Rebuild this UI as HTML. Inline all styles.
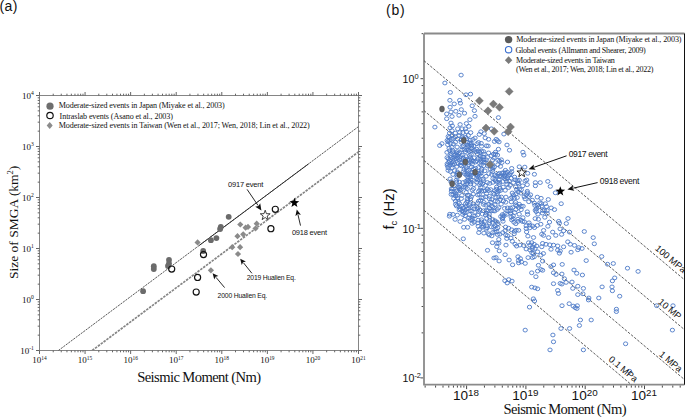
<!DOCTYPE html>
<html><head><meta charset="utf-8"><style>
html,body{margin:0;padding:0;background:#fff;width:685px;height:417px;overflow:hidden}
svg{display:block}
</style></head><body>
<svg width="685" height="417" viewBox="0 0 685 417">
<defs><clipPath id="clipL"><rect x="39.5" y="95.5" width="319.0" height="255.0"/></clipPath>
<clipPath id="clipR"><rect x="424" y="33.5" width="260.5" height="351.2"/></clipPath></defs>
<path d="M39.5 95.5H358.5V350.5H39.5Z" fill="none" stroke="#858585" stroke-width="1"/>
<path d="M39.5 350.5v3.5M39.5 95.5v-3.5M53.22 350.5v1.8M53.22 95.5v-1.8M61.24 350.5v1.8M61.24 95.5v-1.8M66.94 350.5v1.8M66.94 95.5v-1.8M71.35 350.5v1.8M71.35 95.5v-1.8M74.96 350.5v1.8M74.96 95.5v-1.8M78.01 350.5v1.8M78.01 95.5v-1.8M80.66 350.5v1.8M80.66 95.5v-1.8M82.99 350.5v1.8M82.99 95.5v-1.8M85.07 350.5v3.5M85.07 95.5v-3.5M98.79 350.5v1.8M98.79 95.5v-1.8M106.81 350.5v1.8M106.81 95.5v-1.8M112.51 350.5v1.8M112.51 95.5v-1.8M116.92 350.5v1.8M116.92 95.5v-1.8M120.53 350.5v1.8M120.53 95.5v-1.8M123.58 350.5v1.8M123.58 95.5v-1.8M126.23 350.5v1.8M126.23 95.5v-1.8M128.56 350.5v1.8M128.56 95.5v-1.8M130.64 350.5v3.5M130.64 95.5v-3.5M144.36 350.5v1.8M144.36 95.5v-1.8M152.39 350.5v1.8M152.39 95.5v-1.8M158.08 350.5v1.8M158.08 95.5v-1.8M162.5 350.5v1.8M162.5 95.5v-1.8M166.1 350.5v1.8M166.1 95.5v-1.8M169.16 350.5v1.8M169.16 95.5v-1.8M171.8 350.5v1.8M171.8 95.5v-1.8M174.13 350.5v1.8M174.13 95.5v-1.8M176.21 350.5v3.5M176.21 95.5v-3.5M189.93 350.5v1.8M189.93 95.5v-1.8M197.96 350.5v1.8M197.96 95.5v-1.8M203.65 350.5v1.8M203.65 95.5v-1.8M208.07 350.5v1.8M208.07 95.5v-1.8M211.68 350.5v1.8M211.68 95.5v-1.8M214.73 350.5v1.8M214.73 95.5v-1.8M217.37 350.5v1.8M217.37 95.5v-1.8M219.7 350.5v1.8M219.7 95.5v-1.8M221.79 350.5v3.5M221.79 95.5v-3.5M235.5 350.5v1.8M235.5 95.5v-1.8M243.53 350.5v1.8M243.53 95.5v-1.8M249.22 350.5v1.8M249.22 95.5v-1.8M253.64 350.5v1.8M253.64 95.5v-1.8M257.25 350.5v1.8M257.25 95.5v-1.8M260.3 350.5v1.8M260.3 95.5v-1.8M262.94 350.5v1.8M262.94 95.5v-1.8M265.27 350.5v1.8M265.27 95.5v-1.8M267.36 350.5v3.5M267.36 95.5v-3.5M281.08 350.5v1.8M281.08 95.5v-1.8M289.1 350.5v1.8M289.1 95.5v-1.8M294.79 350.5v1.8M294.79 95.5v-1.8M299.21 350.5v1.8M299.21 95.5v-1.8M302.82 350.5v1.8M302.82 95.5v-1.8M305.87 350.5v1.8M305.87 95.5v-1.8M308.51 350.5v1.8M308.51 95.5v-1.8M310.84 350.5v1.8M310.84 95.5v-1.8M312.93 350.5v3.5M312.93 95.5v-3.5M326.65 350.5v1.8M326.65 95.5v-1.8M334.67 350.5v1.8M334.67 95.5v-1.8M340.37 350.5v1.8M340.37 95.5v-1.8M344.78 350.5v1.8M344.78 95.5v-1.8M348.39 350.5v1.8M348.39 95.5v-1.8M351.44 350.5v1.8M351.44 95.5v-1.8M354.08 350.5v1.8M354.08 95.5v-1.8M356.41 350.5v1.8M356.41 95.5v-1.8M358.5 350.5v3.5M358.5 95.5v-3.5M39.5 350.5h-3.5M358.5 350.5h3.5M39.5 335.15h-1.8M358.5 335.15h1.8M39.5 326.17h-1.8M358.5 326.17h1.8M39.5 319.79h-1.8M358.5 319.79h1.8M39.5 314.85h-1.8M358.5 314.85h1.8M39.5 310.81h-1.8M358.5 310.81h1.8M39.5 307.4h-1.8M358.5 307.4h1.8M39.5 304.44h-1.8M358.5 304.44h1.8M39.5 301.83h-1.8M358.5 301.83h1.8M39.5 299.5h-3.5M358.5 299.5h3.5M39.5 284.15h-1.8M358.5 284.15h1.8M39.5 275.17h-1.8M358.5 275.17h1.8M39.5 268.79h-1.8M358.5 268.79h1.8M39.5 263.85h-1.8M358.5 263.85h1.8M39.5 259.81h-1.8M358.5 259.81h1.8M39.5 256.4h-1.8M358.5 256.4h1.8M39.5 253.44h-1.8M358.5 253.44h1.8M39.5 250.83h-1.8M358.5 250.83h1.8M39.5 248.5h-3.5M358.5 248.5h3.5M39.5 233.15h-1.8M358.5 233.15h1.8M39.5 224.17h-1.8M358.5 224.17h1.8M39.5 217.79h-1.8M358.5 217.79h1.8M39.5 212.85h-1.8M358.5 212.85h1.8M39.5 208.81h-1.8M358.5 208.81h1.8M39.5 205.4h-1.8M358.5 205.4h1.8M39.5 202.44h-1.8M358.5 202.44h1.8M39.5 199.83h-1.8M358.5 199.83h1.8M39.5 197.5h-3.5M358.5 197.5h3.5M39.5 182.15h-1.8M358.5 182.15h1.8M39.5 173.17h-1.8M358.5 173.17h1.8M39.5 166.79h-1.8M358.5 166.79h1.8M39.5 161.85h-1.8M358.5 161.85h1.8M39.5 157.81h-1.8M358.5 157.81h1.8M39.5 154.4h-1.8M358.5 154.4h1.8M39.5 151.44h-1.8M358.5 151.44h1.8M39.5 148.83h-1.8M358.5 148.83h1.8M39.5 146.5h-3.5M358.5 146.5h3.5M39.5 131.15h-1.8M358.5 131.15h1.8M39.5 122.17h-1.8M358.5 122.17h1.8M39.5 115.79h-1.8M358.5 115.79h1.8M39.5 110.85h-1.8M358.5 110.85h1.8M39.5 106.81h-1.8M358.5 106.81h1.8M39.5 103.4h-1.8M358.5 103.4h1.8M39.5 100.44h-1.8M358.5 100.44h1.8M39.5 97.83h-1.8M358.5 97.83h1.8M39.5 95.5h-3.5M358.5 95.5h3.5" stroke="#555" stroke-width="0.9" fill="none"/>
<text x="33.8" y="353.7" font-family="'Liberation Serif', serif" font-size="9" text-anchor="end" fill="#111">10<tspan font-size="5.6" dy="-3.3">-1</tspan></text>
<text x="33.8" y="302.7" font-family="'Liberation Serif', serif" font-size="9" text-anchor="end" fill="#111">10<tspan font-size="5.6" dy="-3.3">0</tspan></text>
<text x="33.8" y="251.7" font-family="'Liberation Serif', serif" font-size="9" text-anchor="end" fill="#111">10<tspan font-size="5.6" dy="-3.3">1</tspan></text>
<text x="33.8" y="200.7" font-family="'Liberation Serif', serif" font-size="9" text-anchor="end" fill="#111">10<tspan font-size="5.6" dy="-3.3">2</tspan></text>
<text x="33.8" y="149.7" font-family="'Liberation Serif', serif" font-size="9" text-anchor="end" fill="#111">10<tspan font-size="5.6" dy="-3.3">3</tspan></text>
<text x="33.8" y="98.7" font-family="'Liberation Serif', serif" font-size="9" text-anchor="end" fill="#111">10<tspan font-size="5.6" dy="-3.3">4</tspan></text>
<text x="32.3" y="363" font-family="'Liberation Serif', serif" font-size="9" fill="#111">10<tspan font-size="5.4" dy="-3.0">14</tspan></text>
<text x="77.87" y="363" font-family="'Liberation Serif', serif" font-size="9" fill="#111">10<tspan font-size="5.4" dy="-3.0">15</tspan></text>
<text x="123.44" y="363" font-family="'Liberation Serif', serif" font-size="9" fill="#111">10<tspan font-size="5.4" dy="-3.0">16</tspan></text>
<text x="169.01" y="363" font-family="'Liberation Serif', serif" font-size="9" fill="#111">10<tspan font-size="5.4" dy="-3.0">17</tspan></text>
<text x="214.59" y="363" font-family="'Liberation Serif', serif" font-size="9" fill="#111">10<tspan font-size="5.4" dy="-3.0">18</tspan></text>
<text x="260.16" y="363" font-family="'Liberation Serif', serif" font-size="9" fill="#111">10<tspan font-size="5.4" dy="-3.0">19</tspan></text>
<text x="305.73" y="363" font-family="'Liberation Serif', serif" font-size="9" fill="#111">10<tspan font-size="5.4" dy="-3.0">20</tspan></text>
<text x="351.3" y="363" font-family="'Liberation Serif', serif" font-size="9" fill="#111">10<tspan font-size="5.4" dy="-3.0">21</tspan></text>
<text x="137.2" y="381.5" font-family="'Liberation Serif', serif" font-size="14.6" textLength="124" fill="#111">Seismic Moment (Nm)</text>
<text transform="translate(17.5 279) rotate(-90)" font-family="'Liberation Serif', serif" font-size="13.5" fill="#111">Size of SMGA (km<tspan font-size="8.5" dy="-5">2</tspan><tspan dy="5">)</tspan></text>
<text x="-0.4" y="10.8" font-family="'Liberation Sans', sans-serif" font-size="14" letter-spacing="0.3" fill="#111">(a)</text>
<circle cx="50" cy="106.2" r="3.6" fill="#6e6e6e"/>
<circle cx="50" cy="115.5" r="3.2" fill="none" stroke="#111" stroke-width="1.2"/>
<path d="M49.7 122l3 3.5-3 3.5-3-3.5z" fill="#8c8c8c"/>
<text x="58.7" y="108.3" font-family="'Liberation Serif', serif" font-size="8.1" textLength="166" fill="#111">Moderate-sized events in Japan (Miyake et al., 2003)</text>
<text x="59.6" y="118.5" font-family="'Liberation Serif', serif" font-size="8.1" textLength="113.3" fill="#111">Intraslab events (Asano et al., 2003)</text>
<text x="58.7" y="127.8" font-family="'Liberation Serif', serif" font-size="8.1" textLength="251" fill="#111">Moderate-sized events in Taiwan (Wen et al., 2017; Wen, 2018; Lin et al., 2022)</text>
<g clip-path="url(#clipL)">
<line x1="58.4" y1="350.5" x2="358.5" y2="126.6" stroke="#222" stroke-width="0.75" stroke-dasharray="2.2 0.9"/>
<line x1="199" y1="245.6" x2="308.5" y2="163.91" stroke="#222" stroke-width="0.9"/>
<line x1="92.2" y1="350.5" x2="358.5" y2="151.82" stroke="#858585" stroke-width="1.7" stroke-dasharray="2.5 1.05"/>
</g>
<path d="M424 33.5H684.5M424 33.5V384.7H684.5" fill="none" stroke="#8a8a8a" stroke-width="1.8"/>
<path d="M684.5 33.5V384.7" stroke="#111" stroke-width="1"/>
<path d="M425.15 385.59999999999997v2M435.59 385.59999999999997v2M443 385.59999999999997v2M448.75 385.59999999999997v2M453.44 385.59999999999997v2M457.41 385.59999999999997v2M460.85 385.59999999999997v2M463.89 385.59999999999997v2M466.6 385.59999999999997v3.5M484.45 385.59999999999997v2M494.89 385.59999999999997v2M502.3 385.59999999999997v2M508.05 385.59999999999997v2M512.74 385.59999999999997v2M516.71 385.59999999999997v2M520.15 385.59999999999997v2M523.19 385.59999999999997v2M525.9 385.59999999999997v3.5M543.75 385.59999999999997v2M554.19 385.59999999999997v2M561.6 385.59999999999997v2M567.35 385.59999999999997v2M572.04 385.59999999999997v2M576.01 385.59999999999997v2M579.45 385.59999999999997v2M582.49 385.59999999999997v2M585.2 385.59999999999997v3.5M603.05 385.59999999999997v2M613.49 385.59999999999997v2M620.9 385.59999999999997v2M626.65 385.59999999999997v2M631.34 385.59999999999997v2M635.31 385.59999999999997v2M638.75 385.59999999999997v2M641.79 385.59999999999997v2M644.5 385.59999999999997v3.5M662.35 385.59999999999997v2M672.79 385.59999999999997v2M680.2 385.59999999999997v2M423.1 377.9h-2.6M423.1 332.87h-1.5M423.1 306.52h-1.5M423.1 287.83h-1.5M423.1 273.33h-1.5M423.1 261.49h-1.5M423.1 251.47h-1.5M423.1 242.8h-1.5M423.1 235.15h-1.5M423.1 228.3h-2.6M423.1 183.27h-1.5M423.1 156.92h-1.5M423.1 138.23h-1.5M423.1 123.73h-1.5M423.1 111.89h-1.5M423.1 101.87h-1.5M423.1 93.2h-1.5M423.1 85.55h-1.5M423.1 78.7h-2.6M423.1 33.67h-1.5" stroke="#333" stroke-width="0.9" fill="none"/>
<text x="402.6" y="83" font-family="'Liberation Sans', sans-serif" font-size="10.6" fill="#111">10<tspan font-size="7.4" dy="-3.8">0</tspan></text>
<text x="402.6" y="232.6" font-family="'Liberation Sans', sans-serif" font-size="10.6" fill="#111">10<tspan font-size="7.4" dy="-3.8">-1</tspan></text>
<text x="402.6" y="382.2" font-family="'Liberation Sans', sans-serif" font-size="10.6" fill="#111">10<tspan font-size="7.4" dy="-3.8">-2</tspan></text>
<text transform="translate(453 399.9) scale(1.07 1)" font-family="'Liberation Sans', sans-serif" font-size="12.7" fill="#111">10<tspan font-size="9.2" dy="-4.1">18</tspan></text>
<text transform="translate(512.3 399.9) scale(1.07 1)" font-family="'Liberation Sans', sans-serif" font-size="12.7" fill="#111">10<tspan font-size="9.2" dy="-4.1">19</tspan></text>
<text transform="translate(571.6 399.9) scale(1.07 1)" font-family="'Liberation Sans', sans-serif" font-size="12.7" fill="#111">10<tspan font-size="9.2" dy="-4.1">20</tspan></text>
<text transform="translate(630.9 399.9) scale(1.07 1)" font-family="'Liberation Sans', sans-serif" font-size="12.7" fill="#111">10<tspan font-size="9.2" dy="-4.1">21</tspan></text>
<text x="503.5" y="414.4" font-family="'Liberation Serif', serif" font-size="14.6" textLength="123" fill="#111">Seismic Moment (Nm)</text>
<text transform="translate(394.1 229.6) rotate(-90)" font-family="'Liberation Sans', sans-serif" font-size="15" fill="#111">f<tspan font-size="9.5" dy="3">c</tspan><tspan dy="-3"> (Hz)</tspan></text>
<text x="386" y="14.7" font-family="'Liberation Sans', sans-serif" font-size="14" letter-spacing="0.75" fill="#111">(b)</text>
<g stroke="#4a4a4a" stroke-width="0.9" stroke-dasharray="2.6 1.5"><line x1="424" y1="60.7" x2="684.5" y2="279.78"/><line x1="424" y1="110.6" x2="684.5" y2="329.68"/><line x1="424" y1="160.5" x2="684.5" y2="379.58"/><line x1="424" y1="210.3" x2="631.37" y2="384.7"/></g>
<circle cx="508.6" cy="39.6" r="3.7" fill="#5a5a5a"/>
<circle cx="508.6" cy="49.7" r="3.2" fill="none" stroke="#3a6fd0" stroke-width="1.1"/>
<path d="M508.6 56.3l3.7 3.9-3.7 3.9-3.7-3.9z" fill="#7a7a7a"/>
<text x="516.2" y="42.3" font-family="'Liberation Serif', serif" font-size="8.1" textLength="165.3" fill="#111">Moderate-sized events in Japan (Miyake et al., 2003)</text>
<text x="515.4" y="53.1" font-family="'Liberation Serif', serif" font-size="8.1" textLength="130.4" fill="#111">Global events (Allmann and Shearer, 2009)</text>
<text x="516" y="63.1" font-family="'Liberation Serif', serif" font-size="8.1" textLength="98.8" fill="#111">Moderate-sized events in Taiwan</text>
<text x="516" y="72.3" font-family="'Liberation Serif', serif" font-size="8.1" textLength="137.4" fill="#111">(Wen et al., 2017; Wen, 2018; Lin et al., 2022)</text>
<g>
<circle cx="143.1" cy="291.2" r="2.9" fill="#6b6b6b"/>
<circle cx="153.8" cy="266.2" r="2.9" fill="#6b6b6b"/>
<circle cx="153.8" cy="269" r="2.9" fill="#6b6b6b"/>
<circle cx="169" cy="260" r="2.9" fill="#6b6b6b"/>
<circle cx="169" cy="263.6" r="2.9" fill="#6b6b6b"/>
<circle cx="168" cy="266" r="2.9" fill="#6b6b6b"/>
<circle cx="203.2" cy="251" r="2.9" fill="#6b6b6b"/>
<circle cx="210.9" cy="240.2" r="2.9" fill="#6b6b6b"/>
<circle cx="216.4" cy="238.1" r="2.9" fill="#6b6b6b"/>
<circle cx="220.8" cy="226.9" r="2.9" fill="#6b6b6b"/>
<circle cx="220.1" cy="229" r="2.9" fill="#6b6b6b"/>
<circle cx="228.7" cy="216.8" r="2.9" fill="#6b6b6b"/>
<path d="M197.6 239.3l3.1 3.1-3.1 3.1-3.1-3.1z" fill="#8a8a8a"/>
<path d="M210.9 267.2l3.1 3.1-3.1 3.1-3.1-3.1z" fill="#8a8a8a"/>
<path d="M232.2 244.1l3.1 3.1-3.1 3.1-3.1-3.1z" fill="#8a8a8a"/>
<path d="M240.1 244.1l3.1 3.1-3.1 3.1-3.1-3.1z" fill="#8a8a8a"/>
<path d="M238 250.9l3.1 3.1-3.1 3.1-3.1-3.1z" fill="#8a8a8a"/>
<path d="M240.3 221.4l3.1 3.1-3.1 3.1-3.1-3.1z" fill="#8a8a8a"/>
<path d="M245.6 224.6l3.1 3.1-3.1 3.1-3.1-3.1z" fill="#8a8a8a"/>
<path d="M248 223.8l3.1 3.1-3.1 3.1-3.1-3.1z" fill="#8a8a8a"/>
<path d="M256.7 220.6l3.1 3.1-3.1 3.1-3.1-3.1z" fill="#8a8a8a"/>
<path d="M255.5 225.4l3.1 3.1-3.1 3.1-3.1-3.1z" fill="#8a8a8a"/>
<path d="M237.5 233.1l3.1 3.1-3.1 3.1-3.1-3.1z" fill="#8a8a8a"/>
<path d="M243.2 231.20000000000002l3.1 3.1-3.1 3.1-3.1-3.1z" fill="#8a8a8a"/>
<circle cx="171.7" cy="269" r="3.05" fill="none" stroke="#111" stroke-width="1.15"/>
<circle cx="203.5" cy="254.6" r="3.05" fill="none" stroke="#111" stroke-width="1.15"/>
<circle cx="197.6" cy="277.4" r="3.05" fill="none" stroke="#111" stroke-width="1.15"/>
<circle cx="196.2" cy="292" r="3.05" fill="none" stroke="#111" stroke-width="1.15"/>
<circle cx="275.3" cy="209.3" r="3.05" fill="none" stroke="#111" stroke-width="1.15"/>
<circle cx="270.9" cy="228.7" r="3.05" fill="none" stroke="#111" stroke-width="1.15"/>
<path d="M265.20 210.20L266.43 213.70L270.15 213.79L267.20 216.05L268.26 219.61L265.20 217.50L262.14 219.61L263.20 216.05L260.25 213.79L263.97 213.70Z" fill="#fff" stroke="#111" stroke-width="0.8"/>
<path d="M294.40 197.70L295.63 201.10L299.25 201.22L296.40 203.45L297.40 206.93L294.40 204.90L291.40 206.93L292.40 203.45L289.55 201.22L293.17 201.10Z" fill="#000"/>
</g>
<line x1="247.1" y1="189.4" x2="258.02" y2="205.44" stroke="#111" stroke-width="0.9"/>
<path d="M261.4 210.4L255.26 206.72L258.42 206.02L260.22 203.34Z" fill="#111"/>
<line x1="300.5" y1="225.6" x2="298.04" y2="214.96" stroke="#111" stroke-width="0.9"/>
<path d="M296.8 209.6L300.88 214.81L297.88 214.28L295.42 216.08Z" fill="#111"/>
<line x1="224.6" y1="287.6" x2="216.01" y2="277.36" stroke="#111" stroke-width="0.9"/>
<path d="M212.6 273.3L218.4 276.01L215.56 276.82L214.26 279.48Z" fill="#111"/>
<line x1="251.9" y1="273.3" x2="243.51" y2="262.84" stroke="#111" stroke-width="0.9"/>
<path d="M240.2 258.7L245.93 261.54L243.08 262.29L241.72 264.91Z" fill="#111"/>
<text x="228" y="186.8" font-family="'Liberation Sans', sans-serif" font-size="7.5" textLength="35.3" fill="#111">0917 event</text>
<text x="291.9" y="234.5" font-family="'Liberation Sans', sans-serif" font-size="7.5" textLength="35.1" fill="#111">0918 event</text>
<text x="217.6" y="298" font-family="'Liberation Sans', sans-serif" font-size="6.8" textLength="49.6" fill="#111">2000 Hualien Eq.</text>
<text x="246.8" y="280.4" font-family="'Liberation Sans', sans-serif" font-size="6.8" textLength="49" fill="#111">2019 Hualien Eq.</text>
<g fill="none" stroke="#4c79c7" stroke-width="0.9" clip-path="url(#clipR)">
<ellipse cx="461.1" cy="75.1" rx="2.15" ry="1.9"/><ellipse cx="444.9" cy="83.0" rx="2.15" ry="1.9"/><ellipse cx="450.3" cy="92.4" rx="2.15" ry="1.9"/><ellipse cx="466.0" cy="94.8" rx="2.15" ry="1.9"/><ellipse cx="470.5" cy="94.1" rx="2.15" ry="1.9"/><ellipse cx="449.9" cy="100.3" rx="2.15" ry="1.9"/><ellipse cx="459.7" cy="100.3" rx="2.15" ry="1.9"/><ellipse cx="454.2" cy="103.9" rx="2.15" ry="1.9"/><ellipse cx="460.4" cy="103.2" rx="2.15" ry="1.9"/><ellipse cx="472.2" cy="105.8" rx="2.15" ry="1.9"/><ellipse cx="474.4" cy="110.6" rx="2.15" ry="1.9"/><ellipse cx="498.4" cy="117.6" rx="2.15" ry="1.9"/><ellipse cx="450.1" cy="107.2" rx="2.15" ry="1.9"/><ellipse cx="461.3" cy="109.6" rx="2.15" ry="1.9"/><ellipse cx="455.8" cy="111.3" rx="2.15" ry="1.9"/><ellipse cx="451.0" cy="112.0" rx="2.15" ry="1.9"/><ellipse cx="464.5" cy="113.2" rx="2.15" ry="1.9"/><ellipse cx="446.7" cy="113.9" rx="2.15" ry="1.9"/><ellipse cx="452.0" cy="116.5" rx="2.15" ry="1.9"/><ellipse cx="459.0" cy="115.3" rx="2.15" ry="1.9"/><ellipse cx="446.7" cy="118.7" rx="2.15" ry="1.9"/><ellipse cx="475.0" cy="116.3" rx="2.15" ry="1.9"/><ellipse cx="469.9" cy="119.7" rx="2.15" ry="1.9"/><ellipse cx="451.0" cy="123.0" rx="2.15" ry="1.9"/><ellipse cx="460.1" cy="124.5" rx="2.15" ry="1.9"/><ellipse cx="466.4" cy="123.5" rx="2.15" ry="1.9"/><ellipse cx="468.8" cy="126.4" rx="2.15" ry="1.9"/><ellipse cx="450.1" cy="127.8" rx="2.15" ry="1.9"/><ellipse cx="452.3" cy="125.9" rx="2.15" ry="1.9"/><ellipse cx="457.7" cy="128.8" rx="2.15" ry="1.9"/><ellipse cx="462.1" cy="128.8" rx="2.15" ry="1.9"/><ellipse cx="465.4" cy="128.8" rx="2.15" ry="1.9"/><ellipse cx="452.0" cy="130.7" rx="2.15" ry="1.9"/><ellipse cx="449.6" cy="133.1" rx="2.15" ry="1.9"/><ellipse cx="455.3" cy="133.1" rx="2.15" ry="1.9"/><ellipse cx="459.7" cy="132.6" rx="2.15" ry="1.9"/><ellipse cx="463.0" cy="132.6" rx="2.15" ry="1.9"/><ellipse cx="466.4" cy="131.7" rx="2.15" ry="1.9"/><ellipse cx="470.7" cy="132.6" rx="2.15" ry="1.9"/><ellipse cx="448.2" cy="136.5" rx="2.15" ry="1.9"/><ellipse cx="452.0" cy="135.5" rx="2.15" ry="1.9"/><ellipse cx="455.3" cy="136.9" rx="2.15" ry="1.9"/><ellipse cx="459.2" cy="135.5" rx="2.15" ry="1.9"/><ellipse cx="462.1" cy="136.9" rx="2.15" ry="1.9"/><ellipse cx="468.3" cy="135.5" rx="2.15" ry="1.9"/><ellipse cx="479.3" cy="134.5" rx="2.15" ry="1.9"/><ellipse cx="503.9" cy="134.1" rx="2.15" ry="1.9"/><ellipse cx="480.9" cy="131.7" rx="2.15" ry="1.9"/><ellipse cx="484.2" cy="133.6" rx="2.15" ry="1.9"/><ellipse cx="491.4" cy="128.8" rx="2.15" ry="1.9"/><ellipse cx="485.2" cy="137.9" rx="2.15" ry="1.9"/><ellipse cx="488.6" cy="139.3" rx="2.15" ry="1.9"/><ellipse cx="496.2" cy="139.3" rx="2.15" ry="1.9"/><ellipse cx="522.9" cy="152.2" rx="2.15" ry="1.9"/><ellipse cx="523.8" cy="155.1" rx="2.15" ry="1.9"/><ellipse cx="534.4" cy="174.3" rx="2.15" ry="1.9"/><ellipse cx="527.7" cy="173.3" rx="2.15" ry="1.9"/><ellipse cx="535.4" cy="182.6" rx="2.15" ry="1.9"/><ellipse cx="540.2" cy="182.6" rx="2.15" ry="1.9"/><ellipse cx="547.8" cy="181.4" rx="2.15" ry="1.9"/><ellipse cx="550.3" cy="186.4" rx="2.15" ry="1.9"/><ellipse cx="535.4" cy="185.8" rx="2.15" ry="1.9"/><ellipse cx="526.7" cy="180.0" rx="2.15" ry="1.9"/><ellipse cx="507.5" cy="162.0" rx="2.15" ry="1.9"/><ellipse cx="519.3" cy="166.8" rx="2.15" ry="1.9"/><ellipse cx="524.8" cy="167.1" rx="2.15" ry="1.9"/><ellipse cx="511.7" cy="168.4" rx="2.15" ry="1.9"/><ellipse cx="511.7" cy="171.8" rx="2.15" ry="1.9"/><ellipse cx="525.1" cy="181.0" rx="2.15" ry="1.9"/><ellipse cx="519.3" cy="180.2" rx="2.15" ry="1.9"/><ellipse cx="555.4" cy="192.8" rx="2.15" ry="1.9"/><ellipse cx="541.1" cy="198.3" rx="2.15" ry="1.9"/><ellipse cx="548.3" cy="199.5" rx="2.15" ry="1.9"/><ellipse cx="545.3" cy="203.7" rx="2.15" ry="1.9"/><ellipse cx="561.2" cy="203.7" rx="2.15" ry="1.9"/><ellipse cx="551.2" cy="207.9" rx="2.15" ry="1.9"/><ellipse cx="554.5" cy="209.6" rx="2.15" ry="1.9"/><ellipse cx="568.0" cy="218.5" rx="2.15" ry="1.9"/><ellipse cx="558.7" cy="221.3" rx="2.15" ry="1.9"/><ellipse cx="566.3" cy="223.5" rx="2.15" ry="1.9"/><ellipse cx="549.5" cy="222.1" rx="2.15" ry="1.9"/><ellipse cx="497.4" cy="140.6" rx="2.15" ry="1.9"/><ellipse cx="498.4" cy="149.2" rx="2.15" ry="1.9"/><ellipse cx="507.0" cy="145.0" rx="2.15" ry="1.9"/><ellipse cx="509.5" cy="150.2" rx="2.15" ry="1.9"/><ellipse cx="494.5" cy="141.5" rx="2.15" ry="1.9"/><ellipse cx="501.3" cy="159.8" rx="2.15" ry="1.9"/><ellipse cx="527.2" cy="184.7" rx="2.15" ry="1.9"/><ellipse cx="499.0" cy="141.9" rx="2.15" ry="1.9"/><ellipse cx="546.5" cy="206.6" rx="2.15" ry="1.9"/><ellipse cx="559.4" cy="223.2" rx="2.15" ry="1.9"/><ellipse cx="547.9" cy="226.3" rx="2.15" ry="1.9"/><ellipse cx="560.1" cy="228.9" rx="2.15" ry="1.9"/><ellipse cx="552.7" cy="232.1" rx="2.15" ry="1.9"/><ellipse cx="569.5" cy="232.1" rx="2.15" ry="1.9"/><ellipse cx="584.3" cy="231.5" rx="2.15" ry="1.9"/><ellipse cx="561.6" cy="234.4" rx="2.15" ry="1.9"/><ellipse cx="555.8" cy="235.4" rx="2.15" ry="1.9"/><ellipse cx="543.6" cy="235.4" rx="2.15" ry="1.9"/><ellipse cx="548.6" cy="237.6" rx="2.15" ry="1.9"/><ellipse cx="593.2" cy="237.6" rx="2.15" ry="1.9"/><ellipse cx="533.5" cy="237.5" rx="2.15" ry="1.9"/><ellipse cx="541.8" cy="234.2" rx="2.15" ry="1.9"/><ellipse cx="563.6" cy="230.8" rx="2.15" ry="1.9"/><ellipse cx="594.3" cy="243.8" rx="2.15" ry="1.9"/><ellipse cx="531.7" cy="242.6" rx="2.15" ry="1.9"/><ellipse cx="534.2" cy="244.3" rx="2.15" ry="1.9"/><ellipse cx="536.7" cy="246.0" rx="2.15" ry="1.9"/><ellipse cx="532.5" cy="246.8" rx="2.15" ry="1.9"/><ellipse cx="535.0" cy="248.5" rx="2.15" ry="1.9"/><ellipse cx="530.0" cy="250.0" rx="2.15" ry="1.9"/><ellipse cx="537.6" cy="251.8" rx="2.15" ry="1.9"/><ellipse cx="533.4" cy="253.5" rx="2.15" ry="1.9"/><ellipse cx="534.2" cy="256.8" rx="2.15" ry="1.9"/><ellipse cx="542.6" cy="243.4" rx="2.15" ry="1.9"/><ellipse cx="546.0" cy="244.3" rx="2.15" ry="1.9"/><ellipse cx="549.8" cy="244.8" rx="2.15" ry="1.9"/><ellipse cx="553.5" cy="245.1" rx="2.15" ry="1.9"/><ellipse cx="557.7" cy="245.9" rx="2.15" ry="1.9"/><ellipse cx="563.6" cy="246.8" rx="2.15" ry="1.9"/><ellipse cx="567.8" cy="241.8" rx="2.15" ry="1.9"/><ellipse cx="570.3" cy="244.3" rx="2.15" ry="1.9"/><ellipse cx="574.5" cy="245.4" rx="2.15" ry="1.9"/><ellipse cx="578.7" cy="247.6" rx="2.15" ry="1.9"/><ellipse cx="582.0" cy="248.5" rx="2.15" ry="1.9"/><ellipse cx="577.8" cy="249.8" rx="2.15" ry="1.9"/><ellipse cx="541.8" cy="246.8" rx="2.15" ry="1.9"/><ellipse cx="551.0" cy="249.3" rx="2.15" ry="1.9"/><ellipse cx="557.7" cy="250.1" rx="2.15" ry="1.9"/><ellipse cx="560.2" cy="251.0" rx="2.15" ry="1.9"/><ellipse cx="559.4" cy="253.2" rx="2.15" ry="1.9"/><ellipse cx="571.1" cy="252.2" rx="2.15" ry="1.9"/><ellipse cx="543.4" cy="253.5" rx="2.15" ry="1.9"/><ellipse cx="540.9" cy="255.2" rx="2.15" ry="1.9"/><ellipse cx="586.2" cy="260.6" rx="2.15" ry="1.9"/><ellipse cx="542.6" cy="261.1" rx="2.15" ry="1.9"/><ellipse cx="538.4" cy="265.3" rx="2.15" ry="1.9"/><ellipse cx="553.5" cy="264.9" rx="2.15" ry="1.9"/><ellipse cx="551.0" cy="266.6" rx="2.15" ry="1.9"/><ellipse cx="562.2" cy="264.4" rx="2.15" ry="1.9"/><ellipse cx="540.9" cy="269.5" rx="2.15" ry="1.9"/><ellipse cx="537.6" cy="271.1" rx="2.15" ry="1.9"/><ellipse cx="542.6" cy="270.3" rx="2.15" ry="1.9"/><ellipse cx="531.7" cy="272.8" rx="2.15" ry="1.9"/><ellipse cx="553.5" cy="272.8" rx="2.15" ry="1.9"/><ellipse cx="556.0" cy="274.5" rx="2.15" ry="1.9"/><ellipse cx="561.9" cy="274.0" rx="2.15" ry="1.9"/><ellipse cx="574.0" cy="270.0" rx="2.15" ry="1.9"/><ellipse cx="576.7" cy="273.3" rx="2.15" ry="1.9"/><ellipse cx="582.4" cy="275.0" rx="2.15" ry="1.9"/><ellipse cx="535.9" cy="276.7" rx="2.15" ry="1.9"/><ellipse cx="564.4" cy="278.7" rx="2.15" ry="1.9"/><ellipse cx="553.5" cy="283.7" rx="2.15" ry="1.9"/><ellipse cx="560.2" cy="283.4" rx="2.15" ry="1.9"/><ellipse cx="561.9" cy="284.1" rx="2.15" ry="1.9"/><ellipse cx="566.1" cy="282.4" rx="2.15" ry="1.9"/><ellipse cx="572.0" cy="282.0" rx="2.15" ry="1.9"/><ellipse cx="531.7" cy="287.1" rx="2.15" ry="1.9"/><ellipse cx="535.0" cy="287.9" rx="2.15" ry="1.9"/><ellipse cx="537.6" cy="288.8" rx="2.15" ry="1.9"/><ellipse cx="572.8" cy="288.4" rx="2.15" ry="1.9"/><ellipse cx="577.8" cy="286.2" rx="2.15" ry="1.9"/><ellipse cx="583.4" cy="288.4" rx="2.15" ry="1.9"/><ellipse cx="557.7" cy="290.4" rx="2.15" ry="1.9"/><ellipse cx="558.5" cy="293.5" rx="2.15" ry="1.9"/><ellipse cx="577.8" cy="294.6" rx="2.15" ry="1.9"/><ellipse cx="582.9" cy="293.8" rx="2.15" ry="1.9"/><ellipse cx="533.4" cy="298.8" rx="2.15" ry="1.9"/><ellipse cx="588.8" cy="298.0" rx="2.15" ry="1.9"/><ellipse cx="598.8" cy="298.0" rx="2.15" ry="1.9"/><ellipse cx="601.7" cy="256.5" rx="2.15" ry="1.9"/><ellipse cx="607.5" cy="264.2" rx="2.15" ry="1.9"/><ellipse cx="613.3" cy="263.5" rx="2.15" ry="1.9"/><ellipse cx="627.5" cy="268.2" rx="2.15" ry="1.9"/><ellipse cx="638.1" cy="271.4" rx="2.15" ry="1.9"/><ellipse cx="614.7" cy="277.9" rx="2.15" ry="1.9"/><ellipse cx="612.4" cy="280.9" rx="2.15" ry="1.9"/><ellipse cx="602.1" cy="286.9" rx="2.15" ry="1.9"/><ellipse cx="612.0" cy="286.9" rx="2.15" ry="1.9"/><ellipse cx="612.4" cy="290.8" rx="2.15" ry="1.9"/><ellipse cx="619.7" cy="296.2" rx="2.15" ry="1.9"/><ellipse cx="616.4" cy="309.2" rx="2.15" ry="1.9"/><ellipse cx="616.4" cy="311.6" rx="2.15" ry="1.9"/><ellipse cx="656.7" cy="305.7" rx="2.15" ry="1.9"/><ellipse cx="673.0" cy="305.7" rx="2.15" ry="1.9"/><ellipse cx="672.4" cy="330.1" rx="2.15" ry="1.9"/><ellipse cx="625.6" cy="343.8" rx="2.15" ry="1.9"/><ellipse cx="629.6" cy="371.3" rx="2.15" ry="1.9"/><ellipse cx="534.5" cy="301.0" rx="2.15" ry="1.9"/><ellipse cx="529.5" cy="307.1" rx="2.15" ry="1.9"/><ellipse cx="562.0" cy="305.7" rx="2.15" ry="1.9"/><ellipse cx="569.2" cy="303.7" rx="2.15" ry="1.9"/><ellipse cx="573.2" cy="306.1" rx="2.15" ry="1.9"/><ellipse cx="575.2" cy="307.6" rx="2.15" ry="1.9"/><ellipse cx="577.3" cy="305.7" rx="2.15" ry="1.9"/><ellipse cx="576.9" cy="308.5" rx="2.15" ry="1.9"/><ellipse cx="588.5" cy="300.0" rx="2.15" ry="1.9"/><ellipse cx="580.4" cy="320.0" rx="2.15" ry="1.9"/><ellipse cx="591.2" cy="320.0" rx="2.15" ry="1.9"/><ellipse cx="579.4" cy="325.5" rx="2.15" ry="1.9"/><ellipse cx="561.0" cy="328.5" rx="2.15" ry="1.9"/><ellipse cx="569.6" cy="328.5" rx="2.15" ry="1.9"/><ellipse cx="525.2" cy="330.1" rx="2.15" ry="1.9"/><ellipse cx="552.9" cy="335.0" rx="2.15" ry="1.9"/><ellipse cx="553.5" cy="341.8" rx="2.15" ry="1.9"/><ellipse cx="550.0" cy="349.9" rx="2.15" ry="1.9"/><ellipse cx="583.4" cy="349.9" rx="2.15" ry="1.9"/><ellipse cx="499.1" cy="261.0" rx="2.15" ry="1.9"/><ellipse cx="512.6" cy="264.8" rx="2.15" ry="1.9"/><ellipse cx="509.1" cy="260.0" rx="2.15" ry="1.9"/><ellipse cx="518.7" cy="262.9" rx="2.15" ry="1.9"/><ellipse cx="504.9" cy="280.7" rx="2.15" ry="1.9"/><ellipse cx="508.7" cy="279.6" rx="2.15" ry="1.9"/><ellipse cx="507.2" cy="283.0" rx="2.15" ry="1.9"/><ellipse cx="512.0" cy="281.1" rx="2.15" ry="1.9"/><ellipse cx="498.8" cy="239.4" rx="2.15" ry="1.9"/><ellipse cx="496.9" cy="243.2" rx="2.15" ry="1.9"/><ellipse cx="498.8" cy="243.2" rx="2.15" ry="1.9"/><ellipse cx="506.0" cy="245.1" rx="2.15" ry="1.9"/><ellipse cx="512.3" cy="241.3" rx="2.15" ry="1.9"/><ellipse cx="515.1" cy="244.2" rx="2.15" ry="1.9"/><ellipse cx="516.6" cy="246.1" rx="2.15" ry="1.9"/><ellipse cx="519.9" cy="245.1" rx="2.15" ry="1.9"/><ellipse cx="523.8" cy="245.6" rx="2.15" ry="1.9"/><ellipse cx="528.6" cy="242.7" rx="2.15" ry="1.9"/><ellipse cx="530.0" cy="245.1" rx="2.15" ry="1.9"/><ellipse cx="526.2" cy="249.0" rx="2.15" ry="1.9"/><ellipse cx="532.4" cy="248.5" rx="2.15" ry="1.9"/><ellipse cx="499.3" cy="250.9" rx="2.15" ry="1.9"/><ellipse cx="531.9" cy="252.8" rx="2.15" ry="1.9"/><ellipse cx="505.1" cy="254.7" rx="2.15" ry="1.9"/><ellipse cx="518.0" cy="256.7" rx="2.15" ry="1.9"/><ellipse cx="520.4" cy="258.6" rx="2.15" ry="1.9"/><ellipse cx="518.5" cy="260.5" rx="2.15" ry="1.9"/><ellipse cx="521.4" cy="261.9" rx="2.15" ry="1.9"/><ellipse cx="528.1" cy="257.6" rx="2.15" ry="1.9"/><ellipse cx="532.4" cy="257.6" rx="2.15" ry="1.9"/><ellipse cx="496.0" cy="257.6" rx="2.15" ry="1.9"/><ellipse cx="525.2" cy="263.4" rx="2.15" ry="1.9"/><ellipse cx="449.4" cy="216.2" rx="2.15" ry="1.9"/><ellipse cx="453.0" cy="214.4" rx="2.15" ry="1.9"/><ellipse cx="455.1" cy="219.4" rx="2.15" ry="1.9"/><ellipse cx="457.3" cy="215.1" rx="2.15" ry="1.9"/><ellipse cx="460.1" cy="221.5" rx="2.15" ry="1.9"/><ellipse cx="464.5" cy="219.4" rx="2.15" ry="1.9"/><ellipse cx="463.7" cy="227.3" rx="2.15" ry="1.9"/><ellipse cx="467.6" cy="227.3" rx="2.15" ry="1.9"/><ellipse cx="463.3" cy="238.8" rx="2.15" ry="1.9"/><ellipse cx="478.8" cy="232.6" rx="2.15" ry="1.9"/><ellipse cx="483.9" cy="233.1" rx="2.15" ry="1.9"/><ellipse cx="487.5" cy="250.3" rx="2.15" ry="1.9"/><ellipse cx="494.0" cy="258.0" rx="2.15" ry="1.9"/><ellipse cx="492.5" cy="242.7" rx="2.15" ry="1.9"/><ellipse cx="496.8" cy="246.7" rx="2.15" ry="1.9"/><ellipse cx="434.9" cy="127.1" rx="2.15" ry="1.9"/><ellipse cx="439.7" cy="145.5" rx="2.15" ry="1.9"/><ellipse cx="441.9" cy="143.6" rx="2.15" ry="1.9"/><ellipse cx="449.8" cy="214.2" rx="2.15" ry="1.9"/><ellipse cx="479.7" cy="152.4" rx="2.15" ry="1.9"/><ellipse cx="454.3" cy="191.7" rx="2.15" ry="1.9"/><ellipse cx="452.9" cy="188.8" rx="2.15" ry="1.9"/><ellipse cx="456.2" cy="180.3" rx="2.15" ry="1.9"/><ellipse cx="459.5" cy="159.8" rx="2.15" ry="1.9"/><ellipse cx="476.3" cy="151.7" rx="2.15" ry="1.9"/><ellipse cx="478.2" cy="220.2" rx="2.15" ry="1.9"/><ellipse cx="505.7" cy="202.2" rx="2.15" ry="1.9"/><ellipse cx="453.0" cy="158.0" rx="2.15" ry="1.9"/><ellipse cx="490.2" cy="169.0" rx="2.15" ry="1.9"/><ellipse cx="492.8" cy="167.6" rx="2.15" ry="1.9"/><ellipse cx="489.2" cy="214.2" rx="2.15" ry="1.9"/><ellipse cx="517.2" cy="197.6" rx="2.15" ry="1.9"/><ellipse cx="494.9" cy="204.7" rx="2.15" ry="1.9"/><ellipse cx="486.0" cy="205.2" rx="2.15" ry="1.9"/><ellipse cx="493.6" cy="154.1" rx="2.15" ry="1.9"/><ellipse cx="460.1" cy="162.3" rx="2.15" ry="1.9"/><ellipse cx="529.7" cy="225.1" rx="2.15" ry="1.9"/><ellipse cx="488.9" cy="173.6" rx="2.15" ry="1.9"/><ellipse cx="464.8" cy="160.7" rx="2.15" ry="1.9"/><ellipse cx="496.0" cy="197.1" rx="2.15" ry="1.9"/><ellipse cx="516.7" cy="189.6" rx="2.15" ry="1.9"/><ellipse cx="453.3" cy="143.9" rx="2.15" ry="1.9"/><ellipse cx="463.4" cy="171.7" rx="2.15" ry="1.9"/><ellipse cx="447.0" cy="152.4" rx="2.15" ry="1.9"/><ellipse cx="472.5" cy="172.4" rx="2.15" ry="1.9"/><ellipse cx="457.3" cy="171.9" rx="2.15" ry="1.9"/><ellipse cx="484.0" cy="154.0" rx="2.15" ry="1.9"/><ellipse cx="500.8" cy="216.5" rx="2.15" ry="1.9"/><ellipse cx="499.3" cy="173.3" rx="2.15" ry="1.9"/><ellipse cx="449.8" cy="165.5" rx="2.15" ry="1.9"/><ellipse cx="469.3" cy="160.1" rx="2.15" ry="1.9"/><ellipse cx="467.6" cy="200.7" rx="2.15" ry="1.9"/><ellipse cx="513.0" cy="218.6" rx="2.15" ry="1.9"/><ellipse cx="522.8" cy="185.8" rx="2.15" ry="1.9"/><ellipse cx="527.9" cy="236.1" rx="2.15" ry="1.9"/><ellipse cx="464.2" cy="150.0" rx="2.15" ry="1.9"/><ellipse cx="538.4" cy="219.3" rx="2.15" ry="1.9"/><ellipse cx="468.3" cy="162.7" rx="2.15" ry="1.9"/><ellipse cx="471.3" cy="196.8" rx="2.15" ry="1.9"/><ellipse cx="482.7" cy="183.7" rx="2.15" ry="1.9"/><ellipse cx="500.7" cy="190.4" rx="2.15" ry="1.9"/><ellipse cx="491.5" cy="155.7" rx="2.15" ry="1.9"/><ellipse cx="494.8" cy="211.0" rx="2.15" ry="1.9"/><ellipse cx="479.9" cy="189.9" rx="2.15" ry="1.9"/><ellipse cx="475.0" cy="215.8" rx="2.15" ry="1.9"/><ellipse cx="491.8" cy="199.5" rx="2.15" ry="1.9"/><ellipse cx="498.7" cy="207.7" rx="2.15" ry="1.9"/><ellipse cx="473.2" cy="194.1" rx="2.15" ry="1.9"/><ellipse cx="459.3" cy="182.1" rx="2.15" ry="1.9"/><ellipse cx="471.3" cy="144.5" rx="2.15" ry="1.9"/><ellipse cx="526.2" cy="228.5" rx="2.15" ry="1.9"/><ellipse cx="519.3" cy="204.3" rx="2.15" ry="1.9"/><ellipse cx="490.6" cy="189.6" rx="2.15" ry="1.9"/><ellipse cx="466.8" cy="169.5" rx="2.15" ry="1.9"/><ellipse cx="480.5" cy="200.6" rx="2.15" ry="1.9"/><ellipse cx="474.3" cy="150.2" rx="2.15" ry="1.9"/><ellipse cx="504.6" cy="208.4" rx="2.15" ry="1.9"/><ellipse cx="492.8" cy="171.6" rx="2.15" ry="1.9"/><ellipse cx="460.1" cy="190.7" rx="2.15" ry="1.9"/><ellipse cx="458.1" cy="153.5" rx="2.15" ry="1.9"/><ellipse cx="497.5" cy="155.1" rx="2.15" ry="1.9"/><ellipse cx="448.8" cy="162.5" rx="2.15" ry="1.9"/><ellipse cx="521.0" cy="193.2" rx="2.15" ry="1.9"/><ellipse cx="495.0" cy="232.3" rx="2.15" ry="1.9"/><ellipse cx="497.0" cy="222.1" rx="2.15" ry="1.9"/><ellipse cx="481.6" cy="221.9" rx="2.15" ry="1.9"/><ellipse cx="511.2" cy="178.3" rx="2.15" ry="1.9"/><ellipse cx="452.5" cy="150.2" rx="2.15" ry="1.9"/><ellipse cx="463.5" cy="145.6" rx="2.15" ry="1.9"/><ellipse cx="534.9" cy="205.4" rx="2.15" ry="1.9"/><ellipse cx="471.5" cy="166.9" rx="2.15" ry="1.9"/><ellipse cx="462.9" cy="182.5" rx="2.15" ry="1.9"/><ellipse cx="478.3" cy="173.4" rx="2.15" ry="1.9"/><ellipse cx="485.5" cy="185.4" rx="2.15" ry="1.9"/><ellipse cx="467.3" cy="188.5" rx="2.15" ry="1.9"/><ellipse cx="473.7" cy="146.2" rx="2.15" ry="1.9"/><ellipse cx="451.2" cy="139.3" rx="2.15" ry="1.9"/><ellipse cx="462.1" cy="210.9" rx="2.15" ry="1.9"/><ellipse cx="499.9" cy="188.4" rx="2.15" ry="1.9"/><ellipse cx="470.2" cy="140.2" rx="2.15" ry="1.9"/><ellipse cx="503.4" cy="201.0" rx="2.15" ry="1.9"/><ellipse cx="515.7" cy="186.9" rx="2.15" ry="1.9"/><ellipse cx="501.1" cy="204.2" rx="2.15" ry="1.9"/><ellipse cx="454.5" cy="164.1" rx="2.15" ry="1.9"/><ellipse cx="496.9" cy="176.0" rx="2.15" ry="1.9"/><ellipse cx="461.9" cy="162.9" rx="2.15" ry="1.9"/><ellipse cx="477.7" cy="194.9" rx="2.15" ry="1.9"/><ellipse cx="516.9" cy="205.9" rx="2.15" ry="1.9"/><ellipse cx="499.2" cy="184.4" rx="2.15" ry="1.9"/><ellipse cx="492.4" cy="164.4" rx="2.15" ry="1.9"/><ellipse cx="499.9" cy="234.2" rx="2.15" ry="1.9"/><ellipse cx="536.6" cy="208.7" rx="2.15" ry="1.9"/><ellipse cx="449.5" cy="137.4" rx="2.15" ry="1.9"/><ellipse cx="481.7" cy="169.2" rx="2.15" ry="1.9"/><ellipse cx="476.3" cy="175.0" rx="2.15" ry="1.9"/><ellipse cx="483.4" cy="180.7" rx="2.15" ry="1.9"/><ellipse cx="451.9" cy="147.4" rx="2.15" ry="1.9"/><ellipse cx="472.2" cy="164.1" rx="2.15" ry="1.9"/><ellipse cx="466.2" cy="175.1" rx="2.15" ry="1.9"/><ellipse cx="459.9" cy="185.2" rx="2.15" ry="1.9"/><ellipse cx="473.3" cy="203.9" rx="2.15" ry="1.9"/><ellipse cx="503.3" cy="177.2" rx="2.15" ry="1.9"/><ellipse cx="463.3" cy="158.2" rx="2.15" ry="1.9"/><ellipse cx="461.1" cy="156.6" rx="2.15" ry="1.9"/><ellipse cx="481.5" cy="146.3" rx="2.15" ry="1.9"/><ellipse cx="488.8" cy="190.5" rx="2.15" ry="1.9"/><ellipse cx="481.2" cy="143.3" rx="2.15" ry="1.9"/><ellipse cx="468.8" cy="164.6" rx="2.15" ry="1.9"/><ellipse cx="487.4" cy="182.5" rx="2.15" ry="1.9"/><ellipse cx="532.7" cy="226.0" rx="2.15" ry="1.9"/><ellipse cx="472.1" cy="148.1" rx="2.15" ry="1.9"/><ellipse cx="493.2" cy="193.3" rx="2.15" ry="1.9"/><ellipse cx="539.9" cy="202.8" rx="2.15" ry="1.9"/><ellipse cx="486.2" cy="159.8" rx="2.15" ry="1.9"/><ellipse cx="448.1" cy="167.8" rx="2.15" ry="1.9"/><ellipse cx="470.7" cy="162.2" rx="2.15" ry="1.9"/><ellipse cx="515.1" cy="179.8" rx="2.15" ry="1.9"/><ellipse cx="514.4" cy="231.4" rx="2.15" ry="1.9"/><ellipse cx="450.4" cy="171.5" rx="2.15" ry="1.9"/><ellipse cx="469.4" cy="214.6" rx="2.15" ry="1.9"/><ellipse cx="514.2" cy="233.8" rx="2.15" ry="1.9"/><ellipse cx="461.3" cy="142.3" rx="2.15" ry="1.9"/><ellipse cx="484.8" cy="170.8" rx="2.15" ry="1.9"/><ellipse cx="447.3" cy="165.5" rx="2.15" ry="1.9"/><ellipse cx="494.8" cy="175.0" rx="2.15" ry="1.9"/><ellipse cx="450.1" cy="178.9" rx="2.15" ry="1.9"/><ellipse cx="450.5" cy="143.4" rx="2.15" ry="1.9"/><ellipse cx="481.2" cy="164.8" rx="2.15" ry="1.9"/><ellipse cx="449.4" cy="160.9" rx="2.15" ry="1.9"/><ellipse cx="486.0" cy="162.6" rx="2.15" ry="1.9"/><ellipse cx="496.8" cy="231.7" rx="2.15" ry="1.9"/><ellipse cx="525.1" cy="198.9" rx="2.15" ry="1.9"/><ellipse cx="455.0" cy="157.1" rx="2.15" ry="1.9"/><ellipse cx="497.3" cy="209.4" rx="2.15" ry="1.9"/><ellipse cx="470.7" cy="179.5" rx="2.15" ry="1.9"/><ellipse cx="504.3" cy="175.0" rx="2.15" ry="1.9"/><ellipse cx="505.4" cy="170.3" rx="2.15" ry="1.9"/><ellipse cx="470.4" cy="219.5" rx="2.15" ry="1.9"/><ellipse cx="476.7" cy="149.2" rx="2.15" ry="1.9"/><ellipse cx="457.7" cy="197.8" rx="2.15" ry="1.9"/><ellipse cx="469.0" cy="174.6" rx="2.15" ry="1.9"/><ellipse cx="448.1" cy="170.4" rx="2.15" ry="1.9"/><ellipse cx="527.3" cy="192.9" rx="2.15" ry="1.9"/><ellipse cx="457.2" cy="177.3" rx="2.15" ry="1.9"/><ellipse cx="463.5" cy="207.9" rx="2.15" ry="1.9"/><ellipse cx="475.6" cy="168.4" rx="2.15" ry="1.9"/><ellipse cx="483.7" cy="157.1" rx="2.15" ry="1.9"/><ellipse cx="489.8" cy="220.7" rx="2.15" ry="1.9"/><ellipse cx="463.4" cy="138.5" rx="2.15" ry="1.9"/><ellipse cx="511.7" cy="229.8" rx="2.15" ry="1.9"/><ellipse cx="509.8" cy="174.8" rx="2.15" ry="1.9"/><ellipse cx="461.7" cy="165.9" rx="2.15" ry="1.9"/><ellipse cx="466.9" cy="149.9" rx="2.15" ry="1.9"/><ellipse cx="486.2" cy="229.2" rx="2.15" ry="1.9"/><ellipse cx="465.5" cy="159.2" rx="2.15" ry="1.9"/><ellipse cx="499.3" cy="176.1" rx="2.15" ry="1.9"/><ellipse cx="472.0" cy="210.9" rx="2.15" ry="1.9"/><ellipse cx="451.2" cy="194.4" rx="2.15" ry="1.9"/><ellipse cx="489.4" cy="196.4" rx="2.15" ry="1.9"/><ellipse cx="513.5" cy="182.6" rx="2.15" ry="1.9"/><ellipse cx="465.1" cy="185.3" rx="2.15" ry="1.9"/><ellipse cx="520.9" cy="220.1" rx="2.15" ry="1.9"/><ellipse cx="543.6" cy="230.4" rx="2.15" ry="1.9"/><ellipse cx="526.6" cy="231.9" rx="2.15" ry="1.9"/><ellipse cx="482.4" cy="214.1" rx="2.15" ry="1.9"/><ellipse cx="473.5" cy="188.6" rx="2.15" ry="1.9"/><ellipse cx="450.7" cy="155.6" rx="2.15" ry="1.9"/><ellipse cx="483.3" cy="226.0" rx="2.15" ry="1.9"/><ellipse cx="505.6" cy="227.0" rx="2.15" ry="1.9"/><ellipse cx="486.8" cy="218.4" rx="2.15" ry="1.9"/><ellipse cx="464.9" cy="212.8" rx="2.15" ry="1.9"/><ellipse cx="447.2" cy="140.4" rx="2.15" ry="1.9"/><ellipse cx="509.2" cy="181.1" rx="2.15" ry="1.9"/><ellipse cx="470.0" cy="203.6" rx="2.15" ry="1.9"/><ellipse cx="457.7" cy="173.4" rx="2.15" ry="1.9"/><ellipse cx="505.9" cy="197.1" rx="2.15" ry="1.9"/><ellipse cx="510.0" cy="185.4" rx="2.15" ry="1.9"/><ellipse cx="462.1" cy="146.8" rx="2.15" ry="1.9"/><ellipse cx="503.8" cy="172.7" rx="2.15" ry="1.9"/><ellipse cx="451.4" cy="191.2" rx="2.15" ry="1.9"/><ellipse cx="471.0" cy="143.0" rx="2.15" ry="1.9"/><ellipse cx="467.2" cy="199.0" rx="2.15" ry="1.9"/><ellipse cx="511.8" cy="220.0" rx="2.15" ry="1.9"/><ellipse cx="478.2" cy="167.6" rx="2.15" ry="1.9"/><ellipse cx="492.7" cy="160.0" rx="2.15" ry="1.9"/><ellipse cx="502.9" cy="181.5" rx="2.15" ry="1.9"/><ellipse cx="473.3" cy="161.1" rx="2.15" ry="1.9"/><ellipse cx="542.4" cy="213.1" rx="2.15" ry="1.9"/><ellipse cx="491.2" cy="210.9" rx="2.15" ry="1.9"/><ellipse cx="478.1" cy="158.6" rx="2.15" ry="1.9"/><ellipse cx="461.6" cy="139.7" rx="2.15" ry="1.9"/><ellipse cx="529.8" cy="227.9" rx="2.15" ry="1.9"/><ellipse cx="457.8" cy="158.0" rx="2.15" ry="1.9"/><ellipse cx="457.1" cy="147.0" rx="2.15" ry="1.9"/><ellipse cx="497.9" cy="223.8" rx="2.15" ry="1.9"/><ellipse cx="518.2" cy="191.9" rx="2.15" ry="1.9"/><ellipse cx="447.1" cy="157.6" rx="2.15" ry="1.9"/><ellipse cx="496.6" cy="187.1" rx="2.15" ry="1.9"/><ellipse cx="465.6" cy="187.4" rx="2.15" ry="1.9"/><ellipse cx="468.7" cy="208.3" rx="2.15" ry="1.9"/><ellipse cx="458.1" cy="201.9" rx="2.15" ry="1.9"/><ellipse cx="510.4" cy="173.3" rx="2.15" ry="1.9"/><ellipse cx="486.9" cy="227.8" rx="2.15" ry="1.9"/><ellipse cx="470.6" cy="184.0" rx="2.15" ry="1.9"/><ellipse cx="493.7" cy="227.3" rx="2.15" ry="1.9"/><ellipse cx="466.3" cy="167.8" rx="2.15" ry="1.9"/><ellipse cx="480.1" cy="156.3" rx="2.15" ry="1.9"/><ellipse cx="527.3" cy="211.8" rx="2.15" ry="1.9"/><ellipse cx="466.8" cy="202.1" rx="2.15" ry="1.9"/><ellipse cx="467.9" cy="176.6" rx="2.15" ry="1.9"/><ellipse cx="497.5" cy="201.5" rx="2.15" ry="1.9"/><ellipse cx="461.3" cy="198.6" rx="2.15" ry="1.9"/><ellipse cx="505.0" cy="213.4" rx="2.15" ry="1.9"/><ellipse cx="470.1" cy="210.7" rx="2.15" ry="1.9"/><ellipse cx="515.6" cy="202.4" rx="2.15" ry="1.9"/><ellipse cx="478.6" cy="201.1" rx="2.15" ry="1.9"/><ellipse cx="489.4" cy="216.8" rx="2.15" ry="1.9"/><ellipse cx="489.8" cy="183.4" rx="2.15" ry="1.9"/><ellipse cx="465.5" cy="203.8" rx="2.15" ry="1.9"/><ellipse cx="457.2" cy="195.6" rx="2.15" ry="1.9"/><ellipse cx="519.4" cy="189.2" rx="2.15" ry="1.9"/><ellipse cx="488.4" cy="233.7" rx="2.15" ry="1.9"/><ellipse cx="452.7" cy="165.0" rx="2.15" ry="1.9"/><ellipse cx="489.5" cy="208.2" rx="2.15" ry="1.9"/><ellipse cx="468.4" cy="150.2" rx="2.15" ry="1.9"/><ellipse cx="528.8" cy="201.7" rx="2.15" ry="1.9"/><ellipse cx="494.3" cy="167.0" rx="2.15" ry="1.9"/><ellipse cx="482.8" cy="223.8" rx="2.15" ry="1.9"/><ellipse cx="465.8" cy="137.3" rx="2.15" ry="1.9"/><ellipse cx="475.4" cy="162.0" rx="2.15" ry="1.9"/><ellipse cx="495.4" cy="180.7" rx="2.15" ry="1.9"/><ellipse cx="540.8" cy="224.2" rx="2.15" ry="1.9"/><ellipse cx="457.3" cy="151.6" rx="2.15" ry="1.9"/><ellipse cx="491.3" cy="227.0" rx="2.15" ry="1.9"/><ellipse cx="494.3" cy="194.4" rx="2.15" ry="1.9"/><ellipse cx="489.3" cy="235.0" rx="2.15" ry="1.9"/><ellipse cx="511.3" cy="201.9" rx="2.15" ry="1.9"/><ellipse cx="494.9" cy="190.6" rx="2.15" ry="1.9"/><ellipse cx="468.3" cy="181.4" rx="2.15" ry="1.9"/><ellipse cx="503.0" cy="221.3" rx="2.15" ry="1.9"/><ellipse cx="497.9" cy="164.7" rx="2.15" ry="1.9"/><ellipse cx="511.1" cy="217.0" rx="2.15" ry="1.9"/><ellipse cx="452.0" cy="167.6" rx="2.15" ry="1.9"/><ellipse cx="510.3" cy="208.0" rx="2.15" ry="1.9"/><ellipse cx="457.2" cy="155.5" rx="2.15" ry="1.9"/><ellipse cx="477.5" cy="180.0" rx="2.15" ry="1.9"/><ellipse cx="505.1" cy="230.7" rx="2.15" ry="1.9"/><ellipse cx="495.0" cy="179.1" rx="2.15" ry="1.9"/><ellipse cx="455.5" cy="201.1" rx="2.15" ry="1.9"/><ellipse cx="544.4" cy="210.2" rx="2.15" ry="1.9"/><ellipse cx="478.4" cy="211.4" rx="2.15" ry="1.9"/><ellipse cx="453.0" cy="174.5" rx="2.15" ry="1.9"/><ellipse cx="491.3" cy="206.0" rx="2.15" ry="1.9"/><ellipse cx="526.2" cy="194.8" rx="2.15" ry="1.9"/><ellipse cx="518.0" cy="221.4" rx="2.15" ry="1.9"/><ellipse cx="447.2" cy="163.8" rx="2.15" ry="1.9"/><ellipse cx="516.1" cy="230.2" rx="2.15" ry="1.9"/><ellipse cx="455.6" cy="193.5" rx="2.15" ry="1.9"/><ellipse cx="470.6" cy="198.9" rx="2.15" ry="1.9"/><ellipse cx="494.0" cy="158.1" rx="2.15" ry="1.9"/><ellipse cx="522.9" cy="217.7" rx="2.15" ry="1.9"/><ellipse cx="466.1" cy="156.6" rx="2.15" ry="1.9"/><ellipse cx="507.3" cy="172.2" rx="2.15" ry="1.9"/><ellipse cx="449.1" cy="140.4" rx="2.15" ry="1.9"/><ellipse cx="450.8" cy="157.5" rx="2.15" ry="1.9"/><ellipse cx="455.4" cy="142.2" rx="2.15" ry="1.9"/><ellipse cx="507.4" cy="177.5" rx="2.15" ry="1.9"/><ellipse cx="514.6" cy="177.1" rx="2.15" ry="1.9"/><ellipse cx="450.9" cy="163.1" rx="2.15" ry="1.9"/><ellipse cx="452.6" cy="151.8" rx="2.15" ry="1.9"/><ellipse cx="541.9" cy="206.0" rx="2.15" ry="1.9"/><ellipse cx="506.7" cy="214.3" rx="2.15" ry="1.9"/><ellipse cx="479.7" cy="163.2" rx="2.15" ry="1.9"/><ellipse cx="495.6" cy="154.2" rx="2.15" ry="1.9"/><ellipse cx="461.5" cy="206.1" rx="2.15" ry="1.9"/><ellipse cx="534.5" cy="227.6" rx="2.15" ry="1.9"/><ellipse cx="495.2" cy="201.1" rx="2.15" ry="1.9"/><ellipse cx="469.4" cy="142.8" rx="2.15" ry="1.9"/><ellipse cx="488.6" cy="152.9" rx="2.15" ry="1.9"/><ellipse cx="463.9" cy="187.1" rx="2.15" ry="1.9"/><ellipse cx="537.4" cy="205.2" rx="2.15" ry="1.9"/><ellipse cx="467.4" cy="174.2" rx="2.15" ry="1.9"/><ellipse cx="456.9" cy="166.5" rx="2.15" ry="1.9"/><ellipse cx="481.4" cy="151.3" rx="2.15" ry="1.9"/><ellipse cx="465.8" cy="181.4" rx="2.15" ry="1.9"/><ellipse cx="469.0" cy="195.3" rx="2.15" ry="1.9"/><ellipse cx="465.2" cy="215.6" rx="2.15" ry="1.9"/><ellipse cx="466.9" cy="145.1" rx="2.15" ry="1.9"/><ellipse cx="508.5" cy="187.5" rx="2.15" ry="1.9"/><ellipse cx="529.0" cy="196.5" rx="2.15" ry="1.9"/><ellipse cx="488.2" cy="210.6" rx="2.15" ry="1.9"/><ellipse cx="495.1" cy="225.9" rx="2.15" ry="1.9"/><ellipse cx="499.5" cy="182.5" rx="2.15" ry="1.9"/><ellipse cx="459.2" cy="209.9" rx="2.15" ry="1.9"/><ellipse cx="498.8" cy="191.1" rx="2.15" ry="1.9"/><ellipse cx="469.6" cy="155.6" rx="2.15" ry="1.9"/><ellipse cx="472.3" cy="220.3" rx="2.15" ry="1.9"/><ellipse cx="466.7" cy="138.8" rx="2.15" ry="1.9"/><ellipse cx="505.2" cy="190.3" rx="2.15" ry="1.9"/><ellipse cx="459.4" cy="187.3" rx="2.15" ry="1.9"/><ellipse cx="461.9" cy="195.4" rx="2.15" ry="1.9"/><ellipse cx="489.5" cy="222.7" rx="2.15" ry="1.9"/><ellipse cx="481.2" cy="161.5" rx="2.15" ry="1.9"/><ellipse cx="472.2" cy="180.1" rx="2.15" ry="1.9"/><ellipse cx="483.8" cy="191.1" rx="2.15" ry="1.9"/><ellipse cx="473.8" cy="206.2" rx="2.15" ry="1.9"/><ellipse cx="472.3" cy="190.1" rx="2.15" ry="1.9"/><ellipse cx="477.8" cy="203.0" rx="2.15" ry="1.9"/><ellipse cx="474.1" cy="184.6" rx="2.15" ry="1.9"/><ellipse cx="462.0" cy="149.6" rx="2.15" ry="1.9"/><ellipse cx="476.7" cy="178.5" rx="2.15" ry="1.9"/><ellipse cx="471.6" cy="146.0" rx="2.15" ry="1.9"/><ellipse cx="518.7" cy="184.0" rx="2.15" ry="1.9"/><ellipse cx="471.5" cy="159.6" rx="2.15" ry="1.9"/><ellipse cx="485.7" cy="196.7" rx="2.15" ry="1.9"/><ellipse cx="503.2" cy="187.1" rx="2.15" ry="1.9"/><ellipse cx="481.0" cy="173.0" rx="2.15" ry="1.9"/><ellipse cx="518.6" cy="230.3" rx="2.15" ry="1.9"/><ellipse cx="524.3" cy="196.8" rx="2.15" ry="1.9"/><ellipse cx="508.3" cy="175.7" rx="2.15" ry="1.9"/><ellipse cx="493.2" cy="210.8" rx="2.15" ry="1.9"/><ellipse cx="486.5" cy="193.6" rx="2.15" ry="1.9"/><ellipse cx="497.5" cy="182.3" rx="2.15" ry="1.9"/><ellipse cx="448.1" cy="141.8" rx="2.15" ry="1.9"/><ellipse cx="483.1" cy="197.7" rx="2.15" ry="1.9"/><ellipse cx="457.0" cy="175.2" rx="2.15" ry="1.9"/><ellipse cx="481.7" cy="191.1" rx="2.15" ry="1.9"/><ellipse cx="464.2" cy="169.4" rx="2.15" ry="1.9"/><ellipse cx="510.6" cy="198.5" rx="2.15" ry="1.9"/><ellipse cx="478.0" cy="207.5" rx="2.15" ry="1.9"/><ellipse cx="477.8" cy="222.9" rx="2.15" ry="1.9"/><ellipse cx="497.3" cy="193.4" rx="2.15" ry="1.9"/><ellipse cx="505.0" cy="178.9" rx="2.15" ry="1.9"/><ellipse cx="462.8" cy="214.5" rx="2.15" ry="1.9"/><ellipse cx="453.3" cy="138.3" rx="2.15" ry="1.9"/><ellipse cx="479.6" cy="210.0" rx="2.15" ry="1.9"/><ellipse cx="464.1" cy="164.2" rx="2.15" ry="1.9"/><ellipse cx="505.8" cy="234.9" rx="2.15" ry="1.9"/><ellipse cx="486.4" cy="210.3" rx="2.15" ry="1.9"/><ellipse cx="478.2" cy="226.3" rx="2.15" ry="1.9"/><ellipse cx="464.5" cy="173.6" rx="2.15" ry="1.9"/><ellipse cx="500.9" cy="176.3" rx="2.15" ry="1.9"/><ellipse cx="474.2" cy="222.2" rx="2.15" ry="1.9"/><ellipse cx="498.0" cy="160.2" rx="2.15" ry="1.9"/><ellipse cx="484.2" cy="162.1" rx="2.15" ry="1.9"/><ellipse cx="459.4" cy="189.3" rx="2.15" ry="1.9"/><ellipse cx="513.4" cy="194.9" rx="2.15" ry="1.9"/><ellipse cx="486.4" cy="145.8" rx="2.15" ry="1.9"/><ellipse cx="477.0" cy="143.7" rx="2.15" ry="1.9"/><ellipse cx="460.3" cy="165.2" rx="2.15" ry="1.9"/><ellipse cx="515.6" cy="204.7" rx="2.15" ry="1.9"/><ellipse cx="488.7" cy="204.2" rx="2.15" ry="1.9"/><ellipse cx="472.1" cy="223.4" rx="2.15" ry="1.9"/><ellipse cx="521.1" cy="209.7" rx="2.15" ry="1.9"/><ellipse cx="451.0" cy="153.5" rx="2.15" ry="1.9"/><ellipse cx="477.6" cy="175.8" rx="2.15" ry="1.9"/><ellipse cx="522.5" cy="221.5" rx="2.15" ry="1.9"/><ellipse cx="517.5" cy="180.7" rx="2.15" ry="1.9"/><ellipse cx="518.0" cy="219.2" rx="2.15" ry="1.9"/><ellipse cx="501.9" cy="162.5" rx="2.15" ry="1.9"/><ellipse cx="483.1" cy="179.0" rx="2.15" ry="1.9"/><ellipse cx="478.4" cy="150.9" rx="2.15" ry="1.9"/><ellipse cx="502.4" cy="214.6" rx="2.15" ry="1.9"/><ellipse cx="514.3" cy="198.1" rx="2.15" ry="1.9"/><ellipse cx="524.4" cy="221.8" rx="2.15" ry="1.9"/><ellipse cx="517.9" cy="182.7" rx="2.15" ry="1.9"/><ellipse cx="479.8" cy="184.8" rx="2.15" ry="1.9"/><ellipse cx="547.2" cy="213.5" rx="2.15" ry="1.9"/><ellipse cx="458.0" cy="186.9" rx="2.15" ry="1.9"/><ellipse cx="466.2" cy="192.4" rx="2.15" ry="1.9"/><ellipse cx="541.5" cy="203.6" rx="2.15" ry="1.9"/><ellipse cx="471.8" cy="151.1" rx="2.15" ry="1.9"/><ellipse cx="479.3" cy="174.6" rx="2.15" ry="1.9"/><ellipse cx="484.3" cy="221.8" rx="2.15" ry="1.9"/><ellipse cx="491.8" cy="235.9" rx="2.15" ry="1.9"/><ellipse cx="451.0" cy="181.8" rx="2.15" ry="1.9"/><ellipse cx="490.0" cy="165.9" rx="2.15" ry="1.9"/><ellipse cx="499.0" cy="180.0" rx="2.15" ry="1.9"/><ellipse cx="476.9" cy="182.2" rx="2.15" ry="1.9"/><ellipse cx="482.2" cy="156.9" rx="2.15" ry="1.9"/><ellipse cx="481.7" cy="227.3" rx="2.15" ry="1.9"/><ellipse cx="466.1" cy="206.2" rx="2.15" ry="1.9"/><ellipse cx="455.6" cy="204.4" rx="2.15" ry="1.9"/><ellipse cx="456.6" cy="191.1" rx="2.15" ry="1.9"/><ellipse cx="498.8" cy="197.0" rx="2.15" ry="1.9"/><ellipse cx="519.2" cy="214.2" rx="2.15" ry="1.9"/><ellipse cx="547.1" cy="210.6" rx="2.15" ry="1.9"/><ellipse cx="503.9" cy="216.0" rx="2.15" ry="1.9"/><ellipse cx="470.9" cy="175.0" rx="2.15" ry="1.9"/><ellipse cx="477.3" cy="209.2" rx="2.15" ry="1.9"/><ellipse cx="459.4" cy="175.0" rx="2.15" ry="1.9"/><ellipse cx="542.8" cy="210.6" rx="2.15" ry="1.9"/><ellipse cx="502.4" cy="218.9" rx="2.15" ry="1.9"/><ellipse cx="449.1" cy="148.3" rx="2.15" ry="1.9"/><ellipse cx="535.2" cy="218.6" rx="2.15" ry="1.9"/><ellipse cx="486.7" cy="226.0" rx="2.15" ry="1.9"/><ellipse cx="454.7" cy="170.6" rx="2.15" ry="1.9"/><ellipse cx="537.3" cy="197.1" rx="2.15" ry="1.9"/><ellipse cx="505.3" cy="176.6" rx="2.15" ry="1.9"/><ellipse cx="483.7" cy="165.7" rx="2.15" ry="1.9"/><ellipse cx="477.7" cy="214.9" rx="2.15" ry="1.9"/><ellipse cx="470.7" cy="172.6" rx="2.15" ry="1.9"/><ellipse cx="492.8" cy="182.4" rx="2.15" ry="1.9"/><ellipse cx="477.5" cy="154.2" rx="2.15" ry="1.9"/><ellipse cx="502.7" cy="232.6" rx="2.15" ry="1.9"/><ellipse cx="455.1" cy="155.2" rx="2.15" ry="1.9"/><ellipse cx="495.9" cy="228.7" rx="2.15" ry="1.9"/><ellipse cx="473.0" cy="139.4" rx="2.15" ry="1.9"/><ellipse cx="474.1" cy="208.8" rx="2.15" ry="1.9"/><ellipse cx="487.4" cy="157.4" rx="2.15" ry="1.9"/><ellipse cx="534.3" cy="203.1" rx="2.15" ry="1.9"/><ellipse cx="468.4" cy="170.3" rx="2.15" ry="1.9"/><ellipse cx="480.8" cy="187.4" rx="2.15" ry="1.9"/><ellipse cx="509.0" cy="210.9" rx="2.15" ry="1.9"/><ellipse cx="456.4" cy="152.9" rx="2.15" ry="1.9"/><ellipse cx="501.4" cy="197.0" rx="2.15" ry="1.9"/><ellipse cx="513.2" cy="216.0" rx="2.15" ry="1.9"/><ellipse cx="449.8" cy="150.7" rx="2.15" ry="1.9"/><ellipse cx="462.1" cy="155.1" rx="2.15" ry="1.9"/><ellipse cx="479.7" cy="229.2" rx="2.15" ry="1.9"/><ellipse cx="453.1" cy="194.5" rx="2.15" ry="1.9"/><ellipse cx="470.4" cy="157.7" rx="2.15" ry="1.9"/><ellipse cx="457.6" cy="139.0" rx="2.15" ry="1.9"/><ellipse cx="536.2" cy="211.6" rx="2.15" ry="1.9"/><ellipse cx="451.4" cy="188.9" rx="2.15" ry="1.9"/><ellipse cx="535.3" cy="210.2" rx="2.15" ry="1.9"/><ellipse cx="479.1" cy="179.8" rx="2.15" ry="1.9"/><ellipse cx="486.1" cy="176.3" rx="2.15" ry="1.9"/><ellipse cx="512.3" cy="193.0" rx="2.15" ry="1.9"/><ellipse cx="506.8" cy="238.5" rx="2.15" ry="1.9"/><ellipse cx="510.6" cy="212.8" rx="2.15" ry="1.9"/><ellipse cx="500.2" cy="199.5" rx="2.15" ry="1.9"/><ellipse cx="469.3" cy="151.5" rx="2.15" ry="1.9"/><ellipse cx="537.3" cy="225.5" rx="2.15" ry="1.9"/><ellipse cx="459.4" cy="152.7" rx="2.15" ry="1.9"/><ellipse cx="527.6" cy="214.4" rx="2.15" ry="1.9"/><ellipse cx="499.6" cy="161.2" rx="2.15" ry="1.9"/><ellipse cx="481.3" cy="175.9" rx="2.15" ry="1.9"/><ellipse cx="467.3" cy="195.2" rx="2.15" ry="1.9"/><ellipse cx="465.0" cy="210.3" rx="2.15" ry="1.9"/><ellipse cx="467.4" cy="180.2" rx="2.15" ry="1.9"/><ellipse cx="491.7" cy="174.5" rx="2.15" ry="1.9"/><ellipse cx="485.3" cy="190.6" rx="2.15" ry="1.9"/><ellipse cx="538.0" cy="214.2" rx="2.15" ry="1.9"/><ellipse cx="506.9" cy="184.2" rx="2.15" ry="1.9"/><ellipse cx="496.6" cy="189.2" rx="2.15" ry="1.9"/><ellipse cx="514.7" cy="212.5" rx="2.15" ry="1.9"/><ellipse cx="515.8" cy="209.5" rx="2.15" ry="1.9"/><ellipse cx="473.5" cy="168.9" rx="2.15" ry="1.9"/><ellipse cx="467.4" cy="142.3" rx="2.15" ry="1.9"/><ellipse cx="478.7" cy="191.4" rx="2.15" ry="1.9"/><ellipse cx="492.9" cy="232.4" rx="2.15" ry="1.9"/><ellipse cx="490.8" cy="202.2" rx="2.15" ry="1.9"/><ellipse cx="467.9" cy="147.3" rx="2.15" ry="1.9"/><ellipse cx="538.5" cy="207.0" rx="2.15" ry="1.9"/><ellipse cx="476.7" cy="160.7" rx="2.15" ry="1.9"/><ellipse cx="479.2" cy="194.2" rx="2.15" ry="1.9"/><ellipse cx="476.4" cy="172.5" rx="2.15" ry="1.9"/><ellipse cx="507.5" cy="235.7" rx="2.15" ry="1.9"/><ellipse cx="480.6" cy="182.9" rx="2.15" ry="1.9"/><ellipse cx="502.7" cy="217.4" rx="2.15" ry="1.9"/><ellipse cx="505.4" cy="173.0" rx="2.15" ry="1.9"/><ellipse cx="495.5" cy="152.2" rx="2.15" ry="1.9"/><ellipse cx="497.1" cy="191.7" rx="2.15" ry="1.9"/><ellipse cx="498.2" cy="174.4" rx="2.15" ry="1.9"/><ellipse cx="497.7" cy="227.8" rx="2.15" ry="1.9"/><ellipse cx="455.5" cy="196.0" rx="2.15" ry="1.9"/><ellipse cx="453.3" cy="162.1" rx="2.15" ry="1.9"/><ellipse cx="481.5" cy="219.7" rx="2.15" ry="1.9"/><ellipse cx="488.1" cy="146.0" rx="2.15" ry="1.9"/><ellipse cx="521.1" cy="206.2" rx="2.15" ry="1.9"/><ellipse cx="506.6" cy="181.4" rx="2.15" ry="1.9"/><ellipse cx="526.2" cy="225.8" rx="2.15" ry="1.9"/><ellipse cx="544.8" cy="217.3" rx="2.15" ry="1.9"/><ellipse cx="467.0" cy="183.7" rx="2.15" ry="1.9"/><ellipse cx="481.3" cy="197.7" rx="2.15" ry="1.9"/><ellipse cx="489.3" cy="198.7" rx="2.15" ry="1.9"/><ellipse cx="480.9" cy="158.8" rx="2.15" ry="1.9"/><ellipse cx="532.3" cy="200.2" rx="2.15" ry="1.9"/><ellipse cx="459.2" cy="206.7" rx="2.15" ry="1.9"/><ellipse cx="483.6" cy="159.9" rx="2.15" ry="1.9"/><ellipse cx="508.6" cy="228.2" rx="2.15" ry="1.9"/><ellipse cx="497.5" cy="234.5" rx="2.15" ry="1.9"/><ellipse cx="492.9" cy="219.6" rx="2.15" ry="1.9"/><ellipse cx="483.5" cy="204.4" rx="2.15" ry="1.9"/><ellipse cx="516.0" cy="193.9" rx="2.15" ry="1.9"/><ellipse cx="486.6" cy="213.2" rx="2.15" ry="1.9"/><ellipse cx="518.7" cy="207.5" rx="2.15" ry="1.9"/><ellipse cx="461.1" cy="189.6" rx="2.15" ry="1.9"/><ellipse cx="463.4" cy="212.3" rx="2.15" ry="1.9"/><ellipse cx="478.5" cy="142.5" rx="2.15" ry="1.9"/><ellipse cx="458.0" cy="163.5" rx="2.15" ry="1.9"/><ellipse cx="474.0" cy="157.8" rx="2.15" ry="1.9"/><ellipse cx="492.5" cy="222.4" rx="2.15" ry="1.9"/><ellipse cx="474.8" cy="174.0" rx="2.15" ry="1.9"/><ellipse cx="500.5" cy="166.4" rx="2.15" ry="1.9"/><ellipse cx="473.2" cy="215.7" rx="2.15" ry="1.9"/><ellipse cx="530.5" cy="194.8" rx="2.15" ry="1.9"/><ellipse cx="523.1" cy="206.2" rx="2.15" ry="1.9"/><ellipse cx="460.3" cy="208.8" rx="2.15" ry="1.9"/><ellipse cx="453.8" cy="198.5" rx="2.15" ry="1.9"/><ellipse cx="456.5" cy="206.0" rx="2.15" ry="1.9"/><ellipse cx="481.4" cy="170.8" rx="2.15" ry="1.9"/><ellipse cx="469.0" cy="217.9" rx="2.15" ry="1.9"/><ellipse cx="510.6" cy="210.9" rx="2.15" ry="1.9"/><ellipse cx="487.4" cy="189.2" rx="2.15" ry="1.9"/><ellipse cx="454.2" cy="185.7" rx="2.15" ry="1.9"/><ellipse cx="492.9" cy="206.6" rx="2.15" ry="1.9"/><ellipse cx="487.7" cy="165.8" rx="2.15" ry="1.9"/><ellipse cx="521.3" cy="189.7" rx="2.15" ry="1.9"/><ellipse cx="467.0" cy="208.8" rx="2.15" ry="1.9"/><ellipse cx="510.9" cy="238.1" rx="2.15" ry="1.9"/><ellipse cx="495.1" cy="220.8" rx="2.15" ry="1.9"/><ellipse cx="529.0" cy="222.8" rx="2.15" ry="1.9"/><ellipse cx="448.3" cy="158.8" rx="2.15" ry="1.9"/><ellipse cx="459.8" cy="157.4" rx="2.15" ry="1.9"/><ellipse cx="512.6" cy="207.6" rx="2.15" ry="1.9"/><ellipse cx="470.1" cy="177.0" rx="2.15" ry="1.9"/><ellipse cx="469.2" cy="205.5" rx="2.15" ry="1.9"/><ellipse cx="459.3" cy="203.3" rx="2.15" ry="1.9"/><ellipse cx="502.2" cy="173.0" rx="2.15" ry="1.9"/><ellipse cx="447.7" cy="144.6" rx="2.15" ry="1.9"/><ellipse cx="493.0" cy="178.6" rx="2.15" ry="1.9"/><ellipse cx="515.8" cy="223.7" rx="2.15" ry="1.9"/><ellipse cx="456.6" cy="182.2" rx="2.15" ry="1.9"/><ellipse cx="527.3" cy="191.3" rx="2.15" ry="1.9"/><ellipse cx="456.1" cy="158.7" rx="2.15" ry="1.9"/><ellipse cx="512.0" cy="197.3" rx="2.15" ry="1.9"/><ellipse cx="507.4" cy="207.9" rx="2.15" ry="1.9"/><ellipse cx="483.5" cy="151.5" rx="2.15" ry="1.9"/><ellipse cx="475.0" cy="138.0" rx="2.15" ry="1.9"/><ellipse cx="465.2" cy="151.7" rx="2.15" ry="1.9"/><ellipse cx="483.7" cy="210.7" rx="2.15" ry="1.9"/><ellipse cx="472.1" cy="218.2" rx="2.15" ry="1.9"/><ellipse cx="485.5" cy="215.0" rx="2.15" ry="1.9"/><ellipse cx="483.9" cy="202.4" rx="2.15" ry="1.9"/><ellipse cx="514.0" cy="222.3" rx="2.15" ry="1.9"/><ellipse cx="470.3" cy="181.9" rx="2.15" ry="1.9"/><ellipse cx="454.2" cy="159.7" rx="2.15" ry="1.9"/><ellipse cx="471.2" cy="154.4" rx="2.15" ry="1.9"/><ellipse cx="468.5" cy="145.5" rx="2.15" ry="1.9"/><ellipse cx="492.8" cy="169.4" rx="2.15" ry="1.9"/>
</g>
<ellipse cx="442" cy="109" rx="2.4" ry="3.0" fill="#636363" stroke="#454545" stroke-width="0.5"/>
<ellipse cx="463.8" cy="140.4" rx="2.4" ry="3.0" fill="#636363" stroke="#454545" stroke-width="0.5"/>
<ellipse cx="465.3" cy="162.1" rx="2.4" ry="3.0" fill="#636363" stroke="#454545" stroke-width="0.5"/>
<ellipse cx="459.4" cy="174.7" rx="2.4" ry="3.0" fill="#636363" stroke="#454545" stroke-width="0.5"/>
<ellipse cx="475.1" cy="172.2" rx="2.4" ry="3.0" fill="#636363" stroke="#454545" stroke-width="0.5"/>
<ellipse cx="452.1" cy="183.8" rx="2.4" ry="3.0" fill="#636363" stroke="#454545" stroke-width="0.5"/>
<path d="M479.4 96.8l4 4-4 4-4-4z" fill="#7a7a7a" stroke="#666" stroke-width="0.4"/>
<path d="M493.4 100.1l4 4-4 4-4-4z" fill="#7a7a7a" stroke="#666" stroke-width="0.4"/>
<path d="M499.5 103.3l4 4-4 4-4-4z" fill="#7a7a7a" stroke="#666" stroke-width="0.4"/>
<path d="M488 106.8l4 4-4 4-4-4z" fill="#7a7a7a" stroke="#666" stroke-width="0.4"/>
<path d="M509.2 87.4l4 4-4 4-4-4z" fill="#7a7a7a" stroke="#666" stroke-width="0.4"/>
<path d="M486 124l4 4-4 4-4-4z" fill="#7a7a7a" stroke="#666" stroke-width="0.4"/>
<path d="M494.2 127.30000000000001l4 4-4 4-4-4z" fill="#7a7a7a" stroke="#666" stroke-width="0.4"/>
<path d="M510.5 123l4 4-4 4-4-4z" fill="#7a7a7a" stroke="#666" stroke-width="0.4"/>
<path d="M508.1 127.69999999999999l4 4-4 4-4-4z" fill="#7a7a7a" stroke="#666" stroke-width="0.4"/>
<path d="M490 160.5l4 4-4 4-4-4z" fill="#7a7a7a" stroke="#666" stroke-width="0.4"/>
<path d="M521.70 167.60L522.88 170.98L526.46 171.05L523.60 173.22L524.64 176.65L521.70 174.60L518.76 176.65L519.80 173.22L516.94 171.05L520.52 170.98Z" fill="#fff" stroke="#111" stroke-width="0.9"/>
<path d="M560.30 186.20L561.53 189.60L565.15 189.72L562.30 191.95L563.30 195.43L560.30 193.40L557.30 195.43L558.30 191.95L555.45 189.72L559.07 189.60Z" fill="#000"/>
<line x1="566.6" y1="155.8" x2="534.26" y2="167.2" stroke="#111" stroke-width="1"/>
<path d="M528.6 169.2L533.8 164.4L533.6 167.44L535.66 169.68Z" fill="#111"/>
<line x1="597.6" y1="182.6" x2="573.25" y2="188.16" stroke="#111" stroke-width="1"/>
<path d="M567.4 189.5L573.11 185.32L572.57 188.32L574.36 190.78Z" fill="#111"/>
<text x="568.7" y="157.1" font-family="'Liberation Sans', sans-serif" font-size="8.6" textLength="38.9" fill="#111">0917 event</text>
<text x="599.8" y="184.1" font-family="'Liberation Sans', sans-serif" font-size="8.6" textLength="39.5" fill="#111">0918 event</text>
<g clip-path="url(#clipR)">
<text transform="translate(654.5 249.3) rotate(40.1)" font-family="'Liberation Sans', sans-serif" font-size="9.3" fill="#111">100 MPa</text>
<text transform="translate(657.5 302.8) rotate(40.1)" font-family="'Liberation Sans', sans-serif" font-size="9.3" fill="#111">10 MP</text>
<text transform="translate(658.5 355.3) rotate(40.1)" font-family="'Liberation Sans', sans-serif" font-size="9.3" fill="#111">1 MPa</text>
<text transform="translate(608 360.3) rotate(40.1)" font-family="'Liberation Sans', sans-serif" font-size="9.3" fill="#111">0.1 MPa</text>
</g>
</svg></body></html>
